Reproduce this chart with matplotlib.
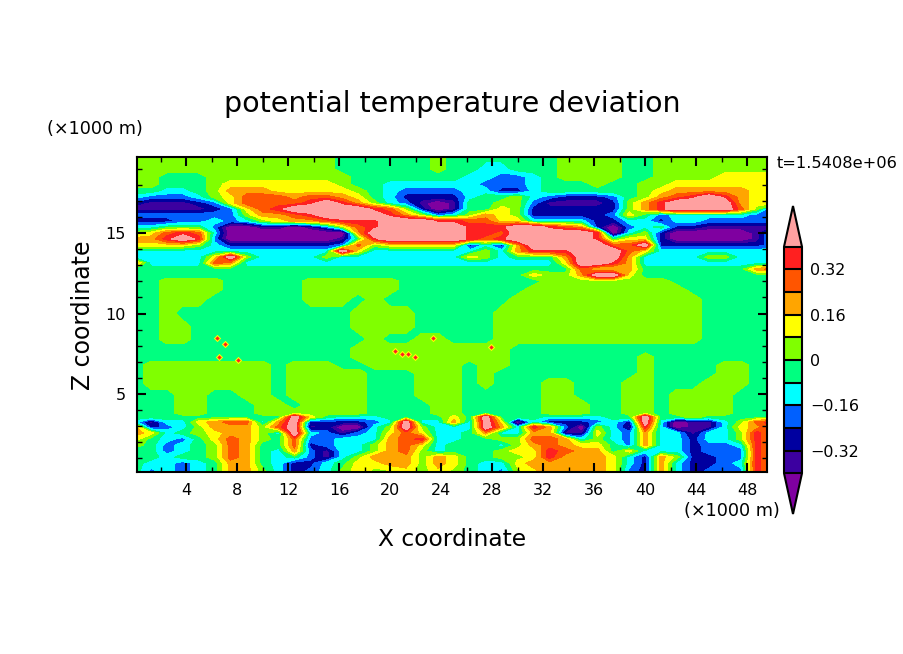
import numpy as np
import matplotlib
matplotlib.use('Agg')
import matplotlib.pyplot as plt
from matplotlib.ticker import MultipleLocator

# deviation classes (one value per band)
P, I, D, B, C, S, L, Y, O, R, E, K = (-0.50, -0.36, -0.28, -0.20, -0.12, -0.04,
                                      0.04, 0.12, 0.20, 0.28, 0.36, 0.50)

x_km = [i * 1.25 for i in range(41)]

z_upper = [19.85, 18.98, 18.48, 18.04, 17.61, 17.24, 16.86, 16.49, 16.12, 15.75,
           15.37, 15.00, 14.63, 14.25, 13.88, 13.51, 13.14, 12.76, 12.39]
z_middle = [12.02, 11.52, 10.90, 10.03, 9.16, 8.42, 7.80, 7.30, 6.80, 6.30, 5.68, 4.94, 4.32, 3.82]
z_lower = [3.57, 3.26, 2.95, 2.58, 2.20, 1.83, 1.46, 1.09, 0.71, 0.10]

theta_upper = [
    [L]*13 + [S]*6 + [L] + [S]*7 + [L]*4 + [S]*2 + [L]*8,
    [L]*13 + [S]*6 + [L] + [S, S, C, C, S, S, S] + [L]*4 + [S]*2 + [L]*8,
    [L, L, S, S, S] + [L]*9 + [S]*7 + [C, C, B, B, C, S] + [L]*4 + [S]*2 + [L]*4 + [Y]*4,
    [L, L, S, S, S, L] + [Y]*7 + [L, S, S] + [C]*6 + [B, B, B, C, S, S, S, L, S, S, L, L] + [Y]*7,
    [S, S, C, C, S, L, O, O, O, Y, Y, Y, Y, Y, L, S, C, B, B, B, B, C, C, D, D, C, S, S, S, S, S, S, L, Y, O, O, O, O, O, Y, Y],
    [C, B, B, B, C, L, Y, R, R, R, O, R, R, O, Y, S, C, D, D, D, D, C, S, S, L, C, B, D, D, D, B, S, L, O, R, E, K, E, O, Y, Y],
    [D, I, I, I, D, B, Y, R, R, R, R, E, K, E, O, L, C, B, I, P, I, S, S, L, L, B, I, I, I, I, D, L, O, E, K, K, K, K, O, Y, Y],
    [I, I, I, I, I, D, B, Y, R, E, K, K, K, K, K, E, R, L, D, P, I, S, S, Y, L, D, D, D, D, D, D, L, O, E, K, K, K, K, R, L, D],
    [B, B, B, B, B, B, B, L, O, O, R, E, K, K, K, K, E, O, L, B, C, L, O, Y, L, D, D, D, D, D, B, Y, S, B, C, C, C, C, C, B, B],
    [D, D, D, B, B, C, B, C, L, Y, O, O, R, E, E, E, K, K, K, E, E, R, R, Y, Y, C, C, C, C, D, D, C, C, D, C, C, B, B, B, B, B],
    [C, C, S, S, S, B, P, P, I, I, P, I, B, L, R, E, K, K, K, K, K, E, E, E, K, K, E, R, O, D, P, B, C, S, D, D, I, I, I, I, I],
    [L, Y, R, E, R, C, P, P, P, P, P, P, P, P, O, K, K, K, K, K, K, E, E, R, K, K, K, K, K, E, P, C, L, D, P, P, P, P, P, I, C],
    [O, O, E, K, E, B, P, P, P, P, P, P, P, I, S, E, K, K, K, K, K, E, R, E, K, K, K, K, K, E, S, Y, Y, D, P, P, P, P, P, I, C],
    [Y, Y, Y, Y, L, C, D, D, D, D, D, D, D, B, R, L, Y, Y, Y, Y, Y, D, C, D, O, K, K, K, K, K, R, R, K, D, D, D, D, D, D, D, B],
    [C]*13 + [K, Y] + [C]*7 + [L, C, O, E, E, E, K, K, K, R, Y] + [C]*8,
    [C]*5 + [Y, K, L] + [C]*4 + [L] + [C]*8 + [Y, L, C, S, S, S, O, K, K, K, O] + [C]*4 + [L, L, C, C, C],
    [O] + [C]*4 + [R, O] + [C]*20 + [Y, K, K, E, O] + [C]*9,
    [S]*28 + [R, Y, Y, O] + [S]*7 + [O, R],
    [S]*25 + [Y, L, L, O, K, K, Y] + [S]*9,
]

theta_middle = [
    [S]*2 + [L]*4 + [S]*5 + [L]*6 + [S]*9 + [L]*8 + [S]*7,
    [S]*2 + [L]*4 + [S]*5 + [L]*6 + [S]*8 + [L]*10 + [S]*6,
    [S]*2 + [L]*3 + [S]*6 + [L]*3 + [S, L] + [S]*8 + [L]*12 + [S]*5,
    [S]*2 + [L] + [S]*11 + [L]*4 + [S]*5 + [L]*13 + [S]*5,
    [S]*2 + [L]*2 + [S]*10 + [L]*4 + [S]*5 + [L]*13 + [S]*5,
    [S]*2 + [L]*2 + [S]*11 + [L] + [S]*2 + [L]*2 + [S]*3 + [L]*13 + [S]*5,
    [S]*14 + [L]*10 + [S]*17,
    [S]*14 + [L]*10 + [S]*8 + [L] + [S]*8,
    [S] + [L]*8 + [S] + [L]*3 + [S]*2 + [L]*6 + [S] + [L]*2 + [S]*8 + [L] + [S]*4 + [L]*2 + [S]*2,
    [S] + [L]*8 + [S] + [L]*5 + [S]*3 + [L]*3 + [S] + [L] + [S]*9 + [L] + [S]*4 + [L]*2 + [S]*2,
    [S] + [L]*8 + [S] + [L]*5 + [S]*3 + [L]*3 + [S] + [L] + [S]*3 + [L]*2 + [S]*3 + [L]*2 + [S]*3 + [L]*3 + [S]*2,
    [S]*3 + [L]*2 + [S]*2 + [L]*2 + [S] + [L]*5 + [S]*3 + [L]*3 + [S]*5 + [L]*2 + [S]*3 + [L]*2 + [S] + [L]*4 + [S]*3,
    [S]*3 + [L]*2 + [S]*3 + [L]*2 + [S] + [L]*4 + [S]*4 + [L]*2 + [S]*5 + [L]*3 + [S]*2 + [L]*2 + [S] + [L]*4 + [S]*3,
    [S]*3 + [L]*2 + [S]*3 + [L]*7 + [S]*4 + [L]*2 + [S]*5 + [L]*3 + [S]*2 + [L]*2 + [S] + [L]*4 + [S]*3,
]

theta_lower = [
    [S]*10 + [K, Y, S, C, C, C, S, S, S, S, Y, S, K, S, S, S, C, C, C, C, S, S, K, S, S, L] + [S]*5,
    [C, I, C, C, Y, O, R, R, C, O, K, D, D, D, D, B, C, K, C, C, O, C, K, Y, P, C, D, D, D, B, C, D, K, C, P, I, I, C, L, R, E],
    [O, D, B, C, L, O, O, O, L, R, K, I, D, P, P, C, L, K, L, C, C, C, K, O, C, E, O, B, P, L, C, I, E, C, P, I, I, C, Y, O, E],
    [O, Y, C, S, L, Y, O, O, L, C, K, C, B, I, B, C, Y, R, Y, C, C, S, O, C, C, O, O, I, I, Y, C, B, O, C, C, I, C, C, L, E, O],
    [Y, S, C, B, S, Y, R, O, L, S, R, B, B, C, C, C, O, R, E, C, C, S, S, L, L, R, R, O, C, L, C, B, O, C, C, D, C, C, L, E, O],
    [L, S, B, C, S, L, R, O, S, S, R, D, B, C, C, L, O, R, Y, C, S, S, S, C, L, O, R, O, Y, Y, S, B, O, C, C, D, B, B, C, E, O],
    [S, S, B, C, S, L, R, O, S, C, O, B, I, C, C, L, O, R, L, C, S, S, S, L, Y, Y, E, R, O, O, S, Y, C, C, C, D, B, B, B, E, O],
    [S, S, C, S, S, L, R, O, S, C, S, B, I, C, L, O, O, O, L, O, Y, S, S, L, L, Y, E, O, O, O, Y, C, D, O, L, D, D, B, B, E, O],
    [S, C, C, B, C, S, O, O, S, C, D, D, C, S, Y, Y, O, O, L, O, Y, S, C, C, Y, O, O, O, O, O, Y, C, D, O, C, D, D, B, C, E, O],
    [S, B, C, B, C, S, O, O, L, C, D, B, C, L, Y, L, L, Y, L, Y, L, S, C, B, L, Y, O, O, O, O, Y, B, D, O, C, D, B, B, B, E, O],
]

# isolated small cells in the mid troposphere
spot_x = [6.43, 7.06, 6.59, 8.08, 20.35, 20.94, 21.41, 21.96, 23.37, 27.92]
spot_z = [8.48, 8.11, 7.30, 7.11, 7.67, 7.48, 7.48, 7.30, 8.48, 7.92]

levels = [-0.40, -0.32, -0.24, -0.16, -0.08, 0, 0.08, 0.16, 0.24, 0.32, 0.40]
cbar_ticks = [-0.32, -0.16, 0, 0.16, 0.32]
band_colors = ['#3c00a0', '#0000a0', '#0060ff', '#00ffff', '#00ff80',
               '#80ff00', '#ffff00', '#ffa500', '#ff5500', '#ff2020']
under_color = '#7f00a0'
over_color = '#ffa0a0'

W, H = 904, 654
plt.rcParams['font.family'] = 'DejaVu Sans'

fig = plt.figure(figsize=(W / 100, H / 100), dpi=100)
ax = fig.add_axes((137 / W, 1 - 472 / H, 630 / W, 315 / H))

z_km = z_upper + z_middle + z_lower
theta = np.array(theta_upper + theta_middle + theta_lower)
cf = ax.contourf(x_km, z_km, theta, levels=levels, colors=band_colors,
                 extend='both', antialiased=False)
cf.cmap.set_under(under_color)
cf.cmap.set_over(over_color)
cf.changed()

ax.scatter(spot_x, spot_z, s=14, marker='D', color='#ffff00', linewidths=0, zorder=3)
ax.scatter(spot_x, spot_z, s=5, marker='D', color='#ff2020', linewidths=0, zorder=4)

ax.set_xlim(0.15, 49.55)
ax.set_ylim(0.16, 19.72)
ax.xaxis.set_major_locator(MultipleLocator(4))
ax.xaxis.set_minor_locator(MultipleLocator(2))
ax.yaxis.set_major_locator(MultipleLocator(5))
ax.yaxis.set_minor_locator(MultipleLocator(1))
ax.tick_params(which='major', direction='in', top=True, right=True, length=6.5, width=1.5,
               labelsize=11.5, pad=8)
ax.tick_params(which='minor', direction='in', top=True, right=True, length=3.5, width=1)
for spine in ax.spines.values():
    spine.set_linewidth(1.5)

# colour bar with pointed ends
cax = fig.add_axes((784 / W, 1 - 514 / H, 18 / W, 308 / H))
cb = fig.colorbar(cf, cax=cax, extend='both', extendfrac=0.18, drawedges=True, ticks=cbar_ticks)
cb.ax.set_yticklabels(['\u22120.32', '\u22120.16', '0', '0.16', '0.32'], fontsize=11.5)
cb.ax.tick_params(length=0, pad=6)
cb.outline.set_linewidth(1.5)
cb.dividers.set_linewidth(1.5)

fig.text(452 / W, 1 - 104 / H, 'potential temperature deviation', fontsize=20.5,
         ha='center', va='center')
fig.text(95 / W, 1 - 129 / H, '(\u00d71000 m)', fontsize=12.7, ha='center', va='center')
fig.text(732 / W, 1 - 511 / H, '(\u00d71000 m)', fontsize=12.7, ha='center', va='center')
fig.text(837 / W, 1 - 163 / H, 't=1.5408e+06', fontsize=11.7, ha='center', va='center')
fig.text(452 / W, 1 - 539 / H, 'X coordinate', fontsize=16.8, ha='center', va='center')
fig.text(83 / W, 1 - 315 / H, 'Z coordinate', fontsize=17, rotation=90, ha='center', va='center')

fig.savefig('out.png', dpi=100)
